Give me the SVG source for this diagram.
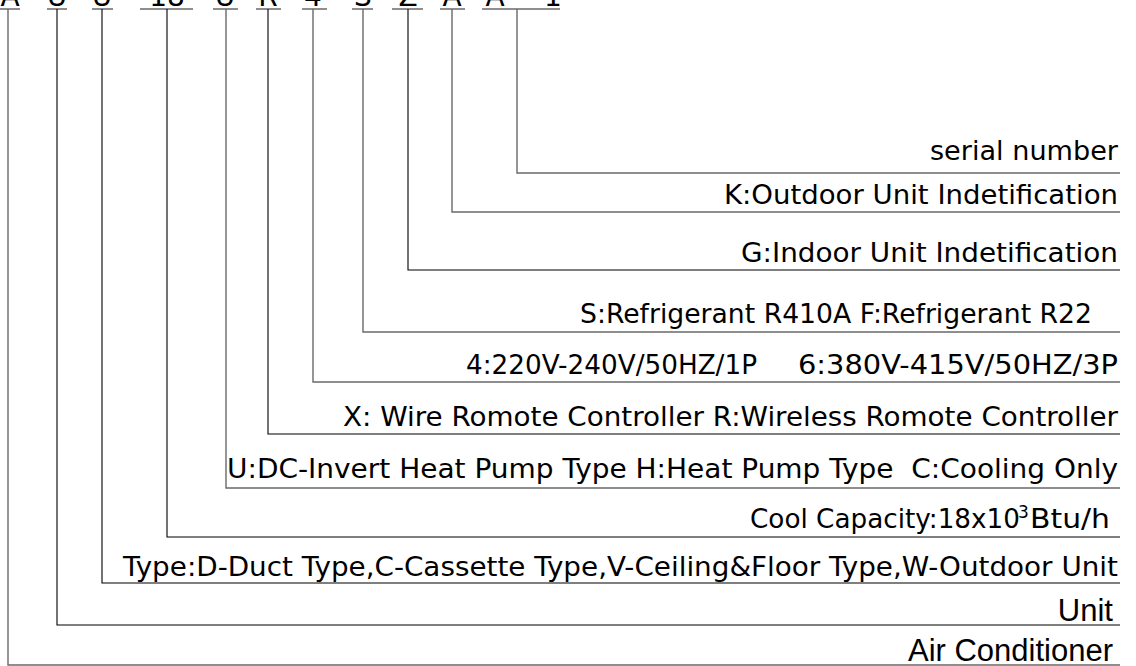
<svg xmlns="http://www.w3.org/2000/svg" width="1136" height="666" viewBox="0 0 1136 666">
<style>
.t{font-family:"DejaVu Sans","Liberation Sans",sans-serif;font-size:26px;fill:#000}
.a{font-family:"Liberation Sans",Arial,sans-serif;font-size:31px;fill:#000}
.c{font-family:"DejaVu Sans","Liberation Sans",sans-serif;font-size:28px;fill:#000;text-anchor:middle}
.g{fill:none;stroke:#6a6a6a;stroke-width:1.4}
.k{fill:none;stroke:#000;stroke-width:1.1}
</style>
<rect width="1136" height="666" fill="#fff"/>
<g id="model-code">
<text class="c" x="10" y="6">A</text>
<text class="c" x="57" y="6">U</text>
<text class="c" x="102" y="6">U</text>
<text class="c" x="167" y="6">18</text>
<text class="c" x="225" y="6">U</text>
<text class="c" x="268" y="6">R</text>
<text class="c" x="313" y="6">4</text>
<text class="c" x="363" y="6">S</text>
<text class="c" x="408" y="6">Z</text>
<text class="c" x="452" y="6">A</text>
<text class="c" x="495" y="6">A</text>
<text class="c" x="553" y="6">1</text>
</g>
<g id="connectors">
<path class="g" d="M0 9H20M47 9H67M92 9H113M140 9H193M213 9H238M256 9H281M302 9H327M352 9H373M392 9H423M440 9H465M482 9H560"/>
<polyline class="g" points="517,9 517,173 1120,173"/>
<polyline class="g" points="452,9 452,212 1120,212"/>
<polyline class="k" points="408,9 408,270 1120,270"/>
<polyline class="g" points="363,9 363,332 1120,332"/>
<polyline class="g" points="313,9 313,382 1120,382"/>
<polyline class="k" points="268,9 268,434 1120,434"/>
<polyline class="g" points="226,9 226,488 1120,488"/>
<polyline class="k" points="167,9 167,537 1120,537"/>
<polyline class="k" points="102,9 102,583 1120,583"/>
<polyline class="k" points="57,9 57,625 1120,625"/>
<polyline class="g" points="8,9 8,665 1120,665"/>
</g>
<g id="serial"><text class="t" x="930" y="160" textLength="188" lengthAdjust="spacingAndGlyphs">serial number</text></g>
<g id="outdoor"><text class="t" x="724" y="204" textLength="394" lengthAdjust="spacingAndGlyphs">K:Outdoor Unit Indetification</text></g>
<g id="indoor"><text class="t" x="741" y="262" textLength="377" lengthAdjust="spacingAndGlyphs">G:Indoor Unit Indetification</text></g>
<g id="refrigerant"><text class="t" x="580" y="323" textLength="512" lengthAdjust="spacingAndGlyphs">S:Refrigerant R410A F:Refrigerant R22</text></g>
<g id="power">
<text class="t" x="466" y="374" textLength="291" lengthAdjust="spacingAndGlyphs">4:220V-240V/50HZ/1P</text>
<text class="t" x="798" y="374" textLength="320" lengthAdjust="spacingAndGlyphs">6:380V-415V/50HZ/3P</text>
</g>
<g id="controller"><text class="t" x="343" y="426" textLength="775" lengthAdjust="spacingAndGlyphs">X: Wire Romote Controller R:Wireless Romote Controller</text></g>
<g id="pump"><text class="t" x="227" y="478" textLength="891" lengthAdjust="spacingAndGlyphs" xml:space="preserve">U:DC-Invert Heat Pump Type H:Heat Pump Type  C:Cooling Only</text></g>
<g id="capacity">
<text class="t" x="750" y="528" textLength="270" lengthAdjust="spacingAndGlyphs">Cool Capacity:18x10</text>
<text class="t" x="1018" y="518" style="font-size:17px">3</text>
<text class="t" x="1030" y="528" textLength="80" lengthAdjust="spacingAndGlyphs">Btu/h</text>
</g>
<g id="type"><text class="t" x="123" y="576" textLength="995" lengthAdjust="spacingAndGlyphs">Type:D-Duct Type,C-Cassette Type,V-Ceiling&amp;Floor Type,W-Outdoor Unit</text></g>
<g id="unit"><text class="a" x="1113" y="621" text-anchor="end">Unit</text></g>
<g id="air"><text class="a" x="1113" y="661" text-anchor="end">Air Conditioner</text></g>
</svg>
